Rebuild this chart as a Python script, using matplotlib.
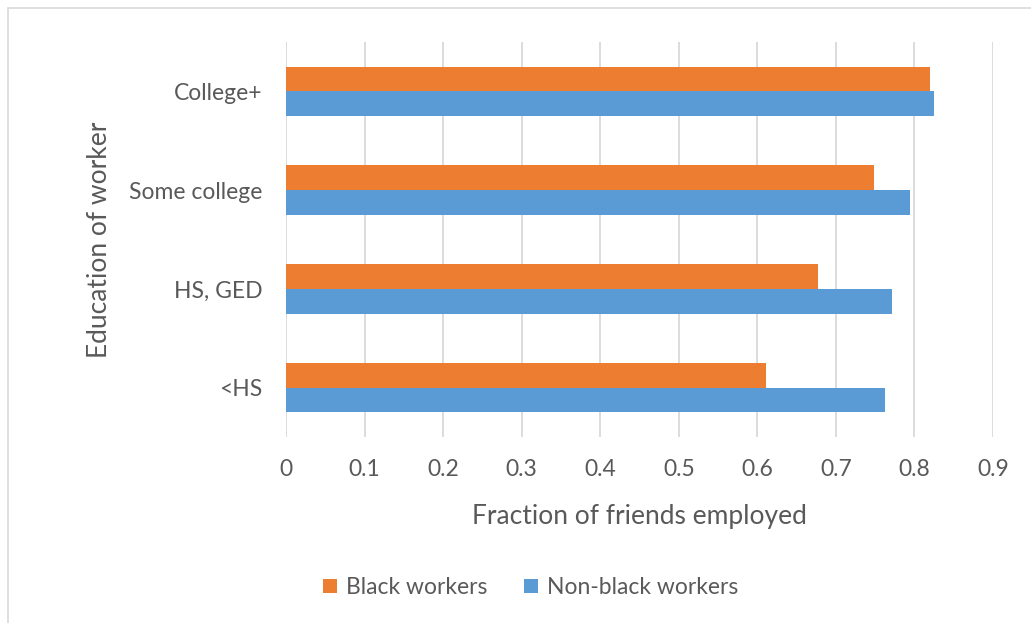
import matplotlib.pyplot as plt
from matplotlib.patches import Rectangle
import numpy as np

# data (bottom to top, as drawn)
categories = ["<HS", "HS, GED", "Some college", "College+"]
black_workers = [0.611, 0.677, 0.749, 0.820]
nonblack_workers = [0.762, 0.772, 0.794, 0.825]
xticks = [0, 0.1, 0.2, 0.3, 0.4, 0.5, 0.6, 0.7, 0.8, 0.9]

plt.rcParams['font.family'] = ['Lato', 'DejaVu Sans']
txt = '#595959'

fig = plt.figure(figsize=(10.31, 6.23), dpi=100)
ax = fig.add_axes([0.2774, 0.2986, 0.6857, 0.634])

y = np.arange(len(categories))
h = 0.25
ax.barh(y + h / 2, black_workers, height=h, color='#ED7D31', label='Black workers', zorder=3)
ax.barh(y - h / 2, nonblack_workers, height=h, color='#5B9BD5', label='Non-black workers', zorder=3)

ax.set_xlim(0, 0.9)
ax.set_ylim(-0.5, 3.5)
ax.set_xticks(xticks)
ax.set_xticklabels([f"{v:g}" for v in xticks], fontsize=16.5, color=txt)
ax.set_yticks(y)
ax.set_yticklabels(categories, fontsize=16.5, color=txt)
ax.tick_params(length=0, pad=16, axis='x')
ax.tick_params(length=0, pad=17, axis='y')
ax.grid(axis='x', color='#d9d9d9', lw=1.3, zorder=0)
for s in ax.spines.values():
    s.set_visible(False)

ax.set_xlabel("Fraction of friends employed", fontsize=19, color=txt, labelpad=17)
ax.set_ylabel("Education of worker", fontsize=19, color=txt, labelpad=12)

fig.legend(loc='center', bbox_to_anchor=(0.515, 0.057), ncol=2, frameon=False,
           fontsize=16.5, handlelength=0.6, handleheight=0.6, handletextpad=0.4,
           columnspacing=1.6, labelcolor=txt)

fig.patches.append(Rectangle((8 / 1031, -0.01), 1.02, 1 - 8 / 623 + 0.01, transform=fig.transFigure,
                             fill=False, edgecolor='#d9d9d9', lw=1.2))

fig.savefig("out.png", dpi=100)
